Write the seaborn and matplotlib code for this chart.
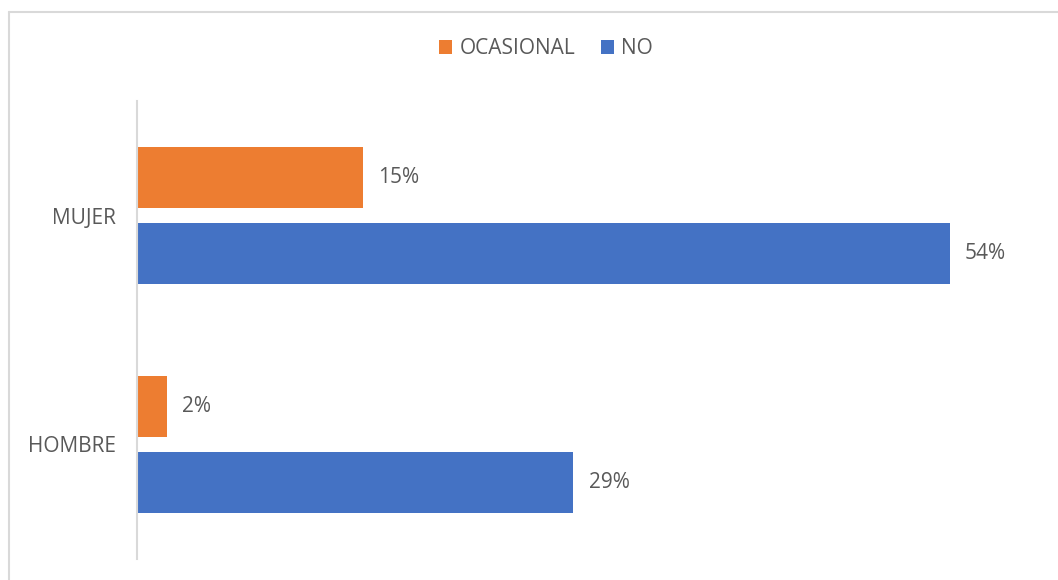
import matplotlib
matplotlib.use("Agg")
import matplotlib.pyplot as plt
import seaborn as sns
import pandas as pd
from matplotlib.lines import Line2D
from matplotlib.patches import Patch

categories = ["MUJER", "HOMBRE"]
series = ["OCASIONAL", "NO"]
ocasional = [0.15, 0.02]
no_vals = [0.54, 0.29]
colors = {"OCASIONAL": "#ED7D31", "NO": "#4472C4"}

rows = []
for c, o, n in zip(categories, ocasional, no_vals):
    rows.append({"cat": c, "serie": "OCASIONAL", "val": o})
    rows.append({"cat": c, "serie": "NO", "val": n})
df = pd.DataFrame(rows)

sns.set_style("white")
plt.rcParams["font.family"] = ["Open Sans", "DejaVu Sans"]
txt = "#595959"
fs = 15

W, H = 1058, 580
fig = plt.figure(figsize=(W / 100, H / 100), dpi=100)
ax = fig.add_axes([137 / W, 1 - 559 / H, (1040 - 137) / W, (559 - 101) / H])

sns.barplot(data=df, y="cat", x="val", hue="serie", order=categories,
            hue_order=series, palette=colors, orient="h", width=0.664,
            gap=0.2, ax=ax, legend=False, saturation=1, linewidth=0)

ax.set_xlim(0, 0.60)
ax.set_ylim(1.5, -0.5)
ax.set_xlabel("")
ax.set_ylabel("")
ax.set_xticks([])
for s in ["top", "right", "bottom"]:
    ax.spines[s].set_visible(False)
ax.spines["left"].set_color("#D9D9D9")
ax.spines["left"].set_linewidth(1.5)
ax.tick_params(axis="y", length=0, pad=15, labelsize=fs, labelcolor=txt)

for cont in ax.containers:
    labels = [f"{v * 100:.0f}%" for v in cont.datavalues]
    ax.bar_label(cont, labels=labels, padding=11, fontsize=fs, color=txt)

handles = [Patch(facecolor=colors[s], edgecolor="none", label=s) for s in series]
fig.legend(handles=handles, loc="center", bbox_to_anchor=(546 / W, 1 - 49 / H),
           ncol=2, frameon=False, fontsize=fs, labelcolor=txt,
           handlelength=0.65, handleheight=0.65, handletextpad=0.35,
           columnspacing=1.2)

# outer frame lines
fig.add_artist(Line2D([8.5 / W, 8.5 / W], [0, 1 - 11.5 / H], color="#D9D9D9",
                      lw=1.5, transform=fig.transFigure))
fig.add_artist(Line2D([8.5 / W, 1], [1 - 11.5 / H, 1 - 11.5 / H], color="#D9D9D9",
                      lw=1.5, transform=fig.transFigure))

fig.savefig("out.png", dpi=100)
